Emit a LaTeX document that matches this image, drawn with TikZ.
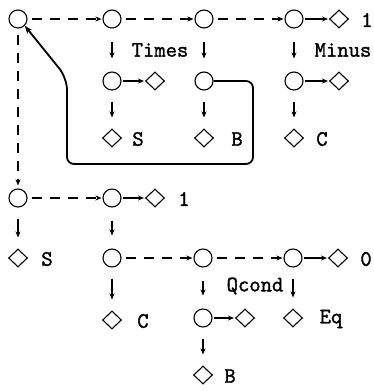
\documentclass[tikz,border=0pt]{standalone}
\usepackage{fontspec}
\setmonofont[FakeBold=1.6]{Latin Modern Mono}
\usetikzlibrary{arrows.meta,shapes.geometric}
\begin{document}
\begin{tikzpicture}[x=1pt,y=-1pt,
  circ/.style={circle,draw,line width=1.1pt,minimum size=18pt,inner sep=0pt},
  dia/.style={diamond,draw,line width=1.1pt,minimum width=19pt,minimum height=18pt,inner sep=0pt},
  lbl/.style={inner sep=0pt,font=\fontsize{22}{24}\selectfont\ttfamily},
  tip/.style={-{Stealth[length=6pt,width=5pt]}},
  sarr/.style={tip,line width=1.1pt,shorten <=1pt,shorten >=1pt},
  darr/.style={tip,line width=1.1pt,dash pattern=on 10pt off 8pt,shorten <=4pt,shorten >=1pt},
  dn/.style={tip,line width=1.1pt,shorten <=13pt,shorten >=13pt},
  dnd/.style={tip,line width=1.1pt,shorten <=11pt,shorten >=11pt},
  curve/.style={-{Stealth[length=8pt,width=6pt]},line width=1.8pt,rounded corners=7pt}]
\useasboundingbox (0,0) rectangle (374,391);
% top structure
\node[circ] (a1) at (18,19) {};
\node[circ] (a2) at (112,19) {};
\node[circ] (a3) at (204,19) {};
\node[circ] (a4) at (294,19) {};
\node[dia]  (a4d) at (339,19) {};
\node[lbl] (t1) at (367,20) {1};
\node[lbl] (tTimes) at (160,50) {Times};
\node[lbl] (tMinus) at (343,50) {Minus};
\node[circ] (b2) at (112,81) {};
\node[dia]  (b2d) at (155,81) {};
\node[circ] (b3) at (204,81) {};
\node[circ] (b4) at (294,81) {};
\node[dia]  (b4d) at (339,81) {};
\node[dia]  (c2) at (112,138) {};
\node[lbl] (tS1) at (138,139) {S};
\node[dia]  (c3) at (204,138) {};
\node[lbl] (tB1) at (237,139) {B};
\node[dia]  (c4) at (294,138) {};
\node[lbl] (tC1) at (322,139) {C};
% lower structure
\node[circ] (d1) at (18,198) {};
\node[circ] (d2) at (112,198) {};
\node[dia]  (d2d) at (155,198) {};
\node[lbl] (t1b) at (184,199) {1};
\node[dia]  (e1) at (18,258) {};
\node[lbl] (tS2) at (47,259) {S};
\node[circ] (e2) at (112,258) {};
\node[circ] (e3) at (203,258) {};
\node[circ] (e4) at (293,258) {};
\node[dia]  (e4d) at (338,258) {};
\node[lbl] (t0) at (366,259) {0};
\node[lbl] (tQ) at (255,286) {Qcond};
\node[dia]  (f2) at (112,320) {};
\node[lbl] (tC2) at (143,321) {C};
\node[circ] (f3) at (203,318) {};
\node[dia]  (f3d) at (245,318) {};
\node[dia]  (f4) at (293,318) {};
\node[lbl] (tEq) at (331,319) {Eq};
\node[dia]  (g3) at (203,375) {};
\node[lbl] (tB2) at (230,376) {B};
% horizontal connectors
\draw[darr] (a1) -- (a2);
\draw[darr] (a2) -- (a3);
\draw[darr] (a3) -- (a4);
\draw[sarr] (a4) -- (a4d);
\draw[sarr] (b2) -- (b2d);
\draw[sarr] (b4) -- (b4d);
\draw[darr] (d1) -- (d2);
\draw[sarr] (d2) -- (d2d);
\draw[darr] (e2) -- (e3);
\draw[darr] (e3) -- (e4);
\draw[sarr] (e4) -- (e4d);
\draw[sarr] (f3) -- (f3d);
% vertical connectors
\draw[dn] (a2) -- (b2);
\draw[dn] (a3) -- (b3);
\draw[dn] (a4) -- (b4);
\draw[dnd] (b2) -- (c2);
\draw[dnd] (b3) -- (c3);
\draw[dnd] (b4) -- (c4);
\draw[darr,shorten <=6pt,shorten >=3pt] (a1) -- (d1);
\draw[dnd] (d1) -- (e1);
\draw[dn] (d2) -- (e2);
\draw[dnd] (e2) -- (f2);
\draw[dn] (e3) -- (f3);
\draw[dnd] (e4) -- (f4);
\draw[dnd] (f3) -- (g3);
% back arrow
\draw[curve] (b3.east) -- (253,81) -- (253,164) -- (67,164) [rounded corners=12pt] -- (67,78) -- (a1.-45);
\end{tikzpicture}
\end{document}
